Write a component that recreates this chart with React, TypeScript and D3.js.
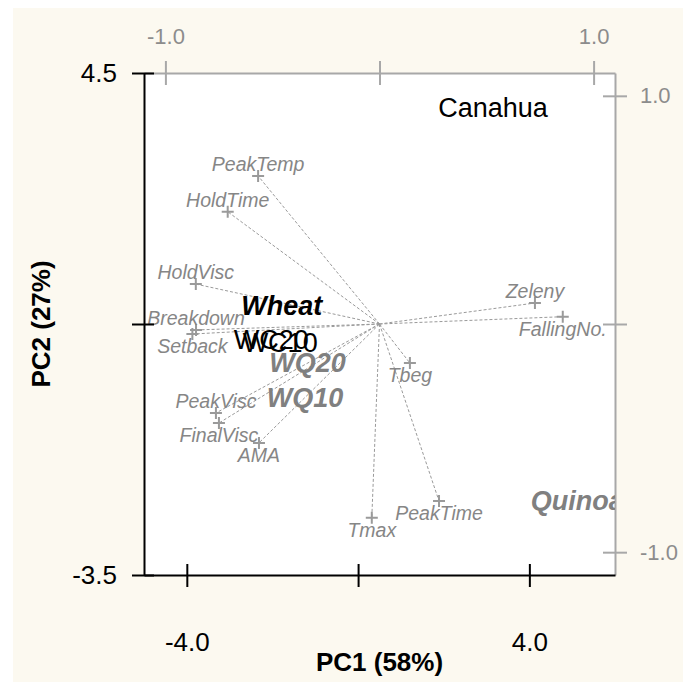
import { useRef, useEffect } from "react";
import * as d3 from "d3";

// PCA scores (PC1, PC2)
const scoreNames = ["Canahua", "Wheat", "WC20", "WC10", "WQ20", "WQ10", "Quinoa"];
const scorePC1 = [3.15, -1.78, -2.03, -1.82, -1.18, -1.24, 5.12];
const scorePC2 = [3.95, 0.8, 0.25, 0.21, -0.12, -0.68, -2.32];

// variable loadings (PC1, PC2)
const varNames = [
  "PeakTemp", "HoldTime", "HoldVisc", "Breakdown", "Setback", "PeakVisc",
  "FinalVisc", "AMA", "Zeleny", "FallingNo.", "Tbeg", "PeakTime", "Tmax",
];
const loadPC1 = [-0.567, -0.709, -0.858, -0.857, -0.874, -0.764, -0.75, -0.563, 0.726, 0.856, 0.142, 0.278, -0.036];
const loadPC2 = [0.649, 0.492, 0.175, -0.026, -0.044, -0.39, -0.434, -0.521, 0.092, 0.032, -0.171, -0.776, -0.849];
const labelsBelow = ["Setback", "FinalVisc", "AMA", "FallingNo.", "Tbeg", "PeakTime", "Tmax"];

const scoreXTicks = [-4, 0, 4];
const scoreXLabels = ["-4.0", "", "4.0"];
const scoreYTicks = [4.5, 0.5, -3.5];
const scoreYLabels = ["4.5", "", "-3.5"];
const loadTicks = [-1, 0, 1];
const loadLabels = ["-1.0", "", "1.0"];

const scoreStyle = {
  Canahua: { weight: "normal", italic: false, fill: "#000" },
  Wheat: { weight: "bold", italic: true, fill: "#000" },
  WC20: { weight: "normal", italic: false, fill: "#000" },
  WC10: { weight: "normal", italic: false, fill: "#000" },
  WQ20: { weight: "bold", italic: true, fill: "#808080" },
  WQ10: { weight: "bold", italic: true, fill: "#808080" },
  Quinoa: { weight: "bold", italic: true, fill: "#808080" },
};

export default function App() {
  const ref = useRef<SVGSVGElement>(null);

  function init() {
    const W = 683, H = 682;
    const plot = { left: 144, right: 615, top: 73, bottom: 575 };
    const font = "Arial, 'Liberation Sans', sans-serif";

    const svg = d3.select(ref.current);
    svg.selectAll("*").remove();

    svg.append("rect").attr("width", W).attr("height", H).attr("fill", "#fff");
    svg.append("rect").attr("x", 13).attr("y", 8).attr("width", W - 13).attr("height", H - 8).attr("fill", "#fcf9f0");
    svg.append("rect")
      .attr("x", plot.left).attr("y", plot.top)
      .attr("width", plot.right - plot.left).attr("height", plot.bottom - plot.top)
      .attr("fill", "#fff");

    svg.append("defs").append("clipPath").attr("id", "plotclip")
      .append("rect")
      .attr("x", plot.left).attr("y", plot.top)
      .attr("width", plot.right - plot.left).attr("height", plot.bottom - plot.top);

    const x = d3.scaleLinear().domain([-5, 6]).range([plot.left, plot.right]);
    const y = d3.scaleLinear().domain([-3.5, 4.5]).range([plot.bottom, plot.top]);
    const lx = d3.scaleLinear().domain([-1.1, 1.1]).range([plot.left, plot.right]);
    const ly = d3.scaleLinear().domain([-1.1, 1.1]).range([plot.bottom, plot.top]);

    // top (loadings) axis
    svg.append("g")
      .attr("transform", `translate(0,${plot.top})`)
      .call(d3.axisTop(lx).tickValues(loadTicks).tickFormat((d, i) => loadLabels[i]).tickSize(12).tickSizeOuter(0).tickPadding(17))
      .call((g) => g.select(".domain").attr("stroke", "#a8a8a8").attr("stroke-width", 2))
      .call((g) => g.selectAll(".tick line").attr("y1", 12).attr("stroke", "#a8a8a8").attr("stroke-width", 2))
      .call((g) => g.selectAll(".tick text").attr("fill", "#8c8c8c").attr("font-size", 22).attr("font-family", font));

    // right (loadings) axis
    svg.append("g")
      .attr("transform", `translate(${plot.right},0)`)
      .call(d3.axisRight(ly).tickValues(loadTicks).tickFormat((d, i) => loadLabels[i]).tickSize(12).tickSizeOuter(0).tickPadding(13))
      .call((g) => g.select(".domain").attr("stroke", "#a8a8a8").attr("stroke-width", 2))
      .call((g) => g.selectAll(".tick line").attr("x1", -12).attr("stroke", "#a8a8a8").attr("stroke-width", 2))
      .call((g) => g.selectAll(".tick text").attr("fill", "#8c8c8c").attr("font-size", 22).attr("font-family", font));

    // loading vectors
    const vec = svg.append("g");
    varNames.forEach((name, i) => {
      const px = lx(loadPC1[i]), py = ly(loadPC2[i]);
      vec.append("line")
        .attr("x1", lx(0)).attr("y1", ly(0)).attr("x2", px).attr("y2", py)
        .attr("stroke", "#9a9a9a").attr("stroke-width", 1).attr("stroke-dasharray", "3,2");
    });
    varNames.forEach((name, i) => {
      const px = lx(loadPC1[i]), py = ly(loadPC2[i]);
      vec.append("path")
        .attr("d", `M${px - 6},${py}H${px + 6}M${px},${py - 6}V${py + 6}`)
        .attr("stroke", "#9a9a9a").attr("stroke-width", 2);
      const below = labelsBelow.includes(name);
      vec.append("text")
        .attr("x", px).attr("y", below ? py + 19 : py - 5)
        .attr("text-anchor", "middle")
        .attr("font-family", font).attr("font-size", 19.5).attr("font-style", "italic")
        .attr("fill", "#868686")
        .text(name);
    });

    // score labels
    const sc = svg.append("g").attr("clip-path", "url(#plotclip)");
    scoreNames.forEach((name, i) => {
      const st = scoreStyle[name];
      sc.append("text")
        .attr("x", x(scorePC1[i])).attr("y", y(scorePC2[i]))
        .attr("dy", "0.35em")
        .attr("text-anchor", "middle")
        .attr("font-family", font).attr("font-size", 27)
        .attr("font-weight", st.weight).attr("font-style", st.italic ? "italic" : "normal")
        .attr("fill", st.fill)
        .text(name);
    });

    // left (scores) axis
    svg.append("g")
      .attr("transform", `translate(${plot.left},0)`)
      .call(d3.axisLeft(y).tickValues(scoreYTicks).tickFormat((d, i) => scoreYLabels[i]).tickSize(12).tickSizeOuter(0).tickPadding(15))
      .call((g) => g.select(".domain").attr("stroke", "#000").attr("stroke-width", 2))
      .call((g) => g.selectAll(".tick line").attr("x1", 10).attr("stroke", "#000").attr("stroke-width", 2))
      .call((g) => g.selectAll(".tick text").attr("fill", "#000").attr("font-size", 26).attr("font-family", font));

    // bottom (scores) axis
    svg.append("g")
      .attr("transform", `translate(0,${plot.bottom})`)
      .call(d3.axisBottom(x).tickValues(scoreXTicks).tickFormat((d, i) => scoreXLabels[i]).tickSize(12).tickSizeOuter(0).tickPadding(46))
      .call((g) => g.select(".domain").attr("stroke", "#000").attr("stroke-width", 2))
      .call((g) => g.selectAll(".tick line").attr("y1", -11).attr("stroke", "#000").attr("stroke-width", 2))
      .call((g) => g.selectAll(".tick text").attr("fill", "#000").attr("font-size", 26).attr("font-family", font));

    // axis titles
    svg.append("text")
      .attr("x", lx(0)).attr("y", 671)
      .attr("text-anchor", "middle")
      .attr("font-family", font).attr("font-size", 26).attr("font-weight", "bold")
      .text("PC1 (58%)");
    svg.append("text")
      .attr("transform", `translate(50,${ly(0)}) rotate(-90)`)
      .attr("text-anchor", "middle")
      .attr("font-family", font).attr("font-size", 26).attr("font-weight", "bold")
      .text("PC2 (27%)");
  }

  useEffect(init, []);
  return (
    <svg
      ref={ref}
      width={683}
      height={682}
      style={{ position: "absolute", left: 0, top: 0, display: "block" }}
    />
  );
}
